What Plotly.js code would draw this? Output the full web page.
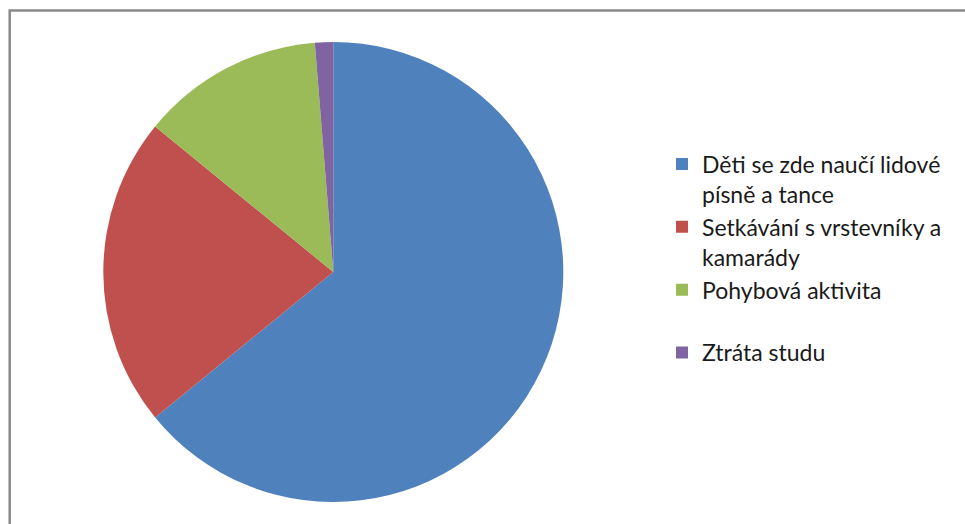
<!DOCTYPE html>
<html>
<head>
<meta charset="utf-8">
<script src="https://cdn.plot.ly/plotly-3.0.1.min.js"></script>
<style>html,body{margin:0;padding:0;background:#fff;}#chart{width:965px;height:524px;}</style>
</head>
<body>
<div id="chart"></div>
<script>
var categories = [
  "Děti se zde naučí lidové<br>písně a tance",
  "Setkávání s vrstevníky a<br>kamarády",
  "Pohybová aktivita<br> ",
  "Ztráta studu"
];
var values = [50, 17, 10, 1];
var colors = ["#4F81BD", "#C0504D", "#9BBB59", "#8064A2"];

var trace = {
  type: "pie",
  labels: categories,
  values: values,
  sort: false,
  direction: "clockwise",
  rotation: 0,
  textinfo: "none",
  hoverinfo: "label+value+percent",
  marker: {colors: colors, line: {width: 0}},
  domain: {x: [103.3/965, 563.3/965], y: [(524-502.5)/524, (524-41.5)/524]}
};

var layout = {
  width: 965,
  height: 524,
  margin: {l: 0, r: 0, t: 0, b: 0},
  paper_bgcolor: "#ffffff",
  showlegend: true,
  legend: {
    x: 662/965, xanchor: "left",
    y: 1 - 142.6/524, yanchor: "top",
    valign: "top",
    bgcolor: "rgba(0,0,0,0)",
    borderwidth: 0,
    font: {family: "Lato, 'Open Sans', sans-serif", size: 23, color: "#1a1a1a"}
  },
  shapes: [{
    type: "rect", xref: "paper", yref: "paper",
    x0: 9.7/965, x1: 1.05, y0: -0.05, y1: 1 - 10.5/524,
    line: {color: "#8a8a8a", width: 2.5},
    fillcolor: "rgba(0,0,0,0)"
  }]
};

Plotly.newPlot("chart", [trace], layout, {staticPlot: true});
</script>
</body>
</html>
